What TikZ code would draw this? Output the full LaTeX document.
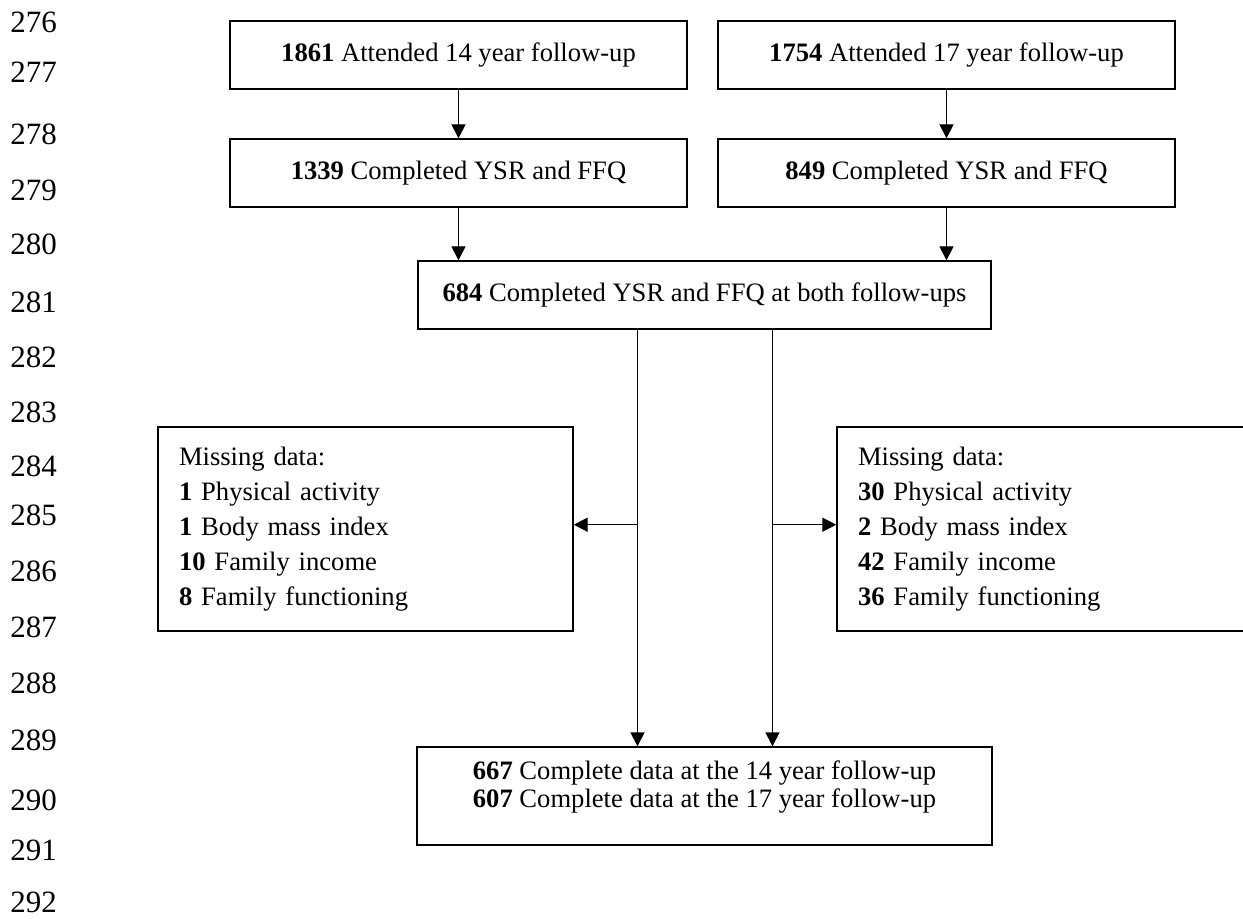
\documentclass[tikz,border=0pt]{standalone}
\usepackage{fontspec}
\setmainfont{Liberation Serif}
\usepackage{tikz}
\usetikzlibrary{positioning,arrows.meta,calc}

\tikzset{
    box/.style={draw, line width=0.7pt, minimum width=228.5pt, minimum height=34pt, inner sep=0pt, font=\fontsize{13.3}{14}\selectfont},
    sidebox/.style={draw, line width=0.7pt, minimum height=102pt, text width=186.5pt, inner xsep=10.5pt, align=left, font=\fontsize{13.3}{17.5}\selectfont},
    arr/.style={-{Triangle[length=7pt,width=7pt]}, line width=0.7pt},
    lineno/.style={anchor=west, inner sep=0pt, font=\fontsize{15.5}{16}\selectfont}
}

\begin{document}
\begin{tikzpicture}[x=0.5pt, y=-0.5pt]
    \useasboundingbox (0,0) rectangle (1243,919);

    % line numbers down the margin
    \foreach \n/\y in {276/22, 277/72, 278/134, 279/190, 280/244, 281/302, 282/357, 283/412, 284/466,
                       285/515, 286/571, 287/627, 288/683, 289/740, 290/800, 291/850, 292/902}
        \node[lineno] (ln\n) at (10,\y) {\n};

    % flow boxes
    \node[box] (att14) at (458.5,55) {\textbf{1861} Attended 14 year follow-up};
    \node[box] (att17) at (946.5,55) {\textbf{1754} Attended 17 year follow-up};
    \node[box] (ysr14) at (458.5,173) {\textbf{1339} Completed YSR and FFQ};
    \node[box] (ysr17) at (946.5,173) {\textbf{849} Completed YSR and FFQ};
    \node[box, minimum width=286.5pt] (both) at (704.5,295) {\textbf{684} Completed YSR and FFQ at both follow-ups};

    \node[sidebox] (miss14) at (365.5,529) {Missing data:\\
        \textbf{1} Physical activity\\
        \textbf{1} Body mass index\\
        \textbf{10} Family income\\
        \textbf{8} Family functioning};
    \node[sidebox] (miss17) at (1044.5,529) {Missing data:\\
        \textbf{30} Physical activity\\
        \textbf{2} Body mass index\\
        \textbf{42} Family income\\
        \textbf{36} Family functioning};

    \node[box, minimum width=287.5pt, minimum height=49pt, align=left] (final) at (704.5,796)
        {\textbf{667} Complete data at the 14 year follow-up\\
         \textbf{607} Complete data at the 17 year follow-up\\[-2pt]\mbox{}};

    % connectors
    \draw[arr] (att14) -- (ysr14);
    \draw[arr] (att17) -- (ysr17);
    \draw[arr] (ysr14.south) -- (ysr14.south |- both.north);
    \draw[arr] (ysr17.south) -- (ysr17.south |- both.north);

    \coordinate (split14) at ($(both.south)+(-67,0)$);
    \coordinate (split17) at ($(both.south)+(68,0)$);
    \coordinate (tap14) at ($(split14)+(0,195)$);
    \coordinate (tap17) at ($(split17)+(0,195)$);

    \draw[arr] (split14) -- (split14 |- final.north);
    \draw[arr] (split17) -- (split17 |- final.north);
    \draw[arr] (tap14) -- (tap14 -| miss14.east);
    \draw[arr] (tap17) -- (tap17 -| miss17.west);
\end{tikzpicture}
\end{document}
